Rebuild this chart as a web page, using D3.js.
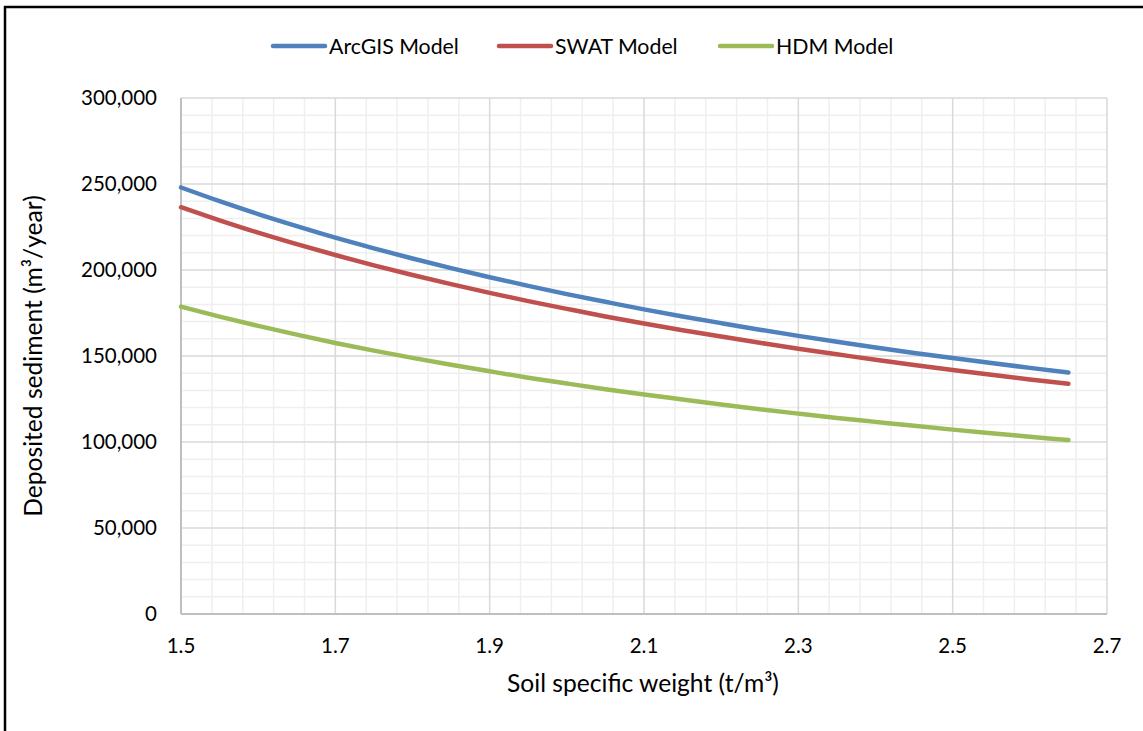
<!DOCTYPE html>
<html><head><meta charset="utf-8">
<script src="https://cdn.jsdelivr.net/npm/d3@7"></script>
<style>body{margin:0;background:#fff}svg text{font-family:Lato,"Open Sans",sans-serif;fill:#000}</style>
</head><body><svg id="c" width="1143" height="731"></svg>
<script>
const xValues = [1.5,1.55,1.6,1.65,1.7,1.75,1.8,1.85,1.9,1.95,2.0,2.05,2.1,2.15,2.2,2.25,2.3,2.35,2.4,2.45,2.5,2.55,2.6,2.65];
const arcgis = [248000,240000,232500,225500,218800,212600,206700,201100,195800,190800,186000,181500,177100,173000,169100,165300,161700,158300,155000,151800,148800,145900,143100,140400];
const swat = [236500,228900,221700,215000,208700,202700,197100,191800,186700,181900,177400,173000,168900,165000,161300,157700,154200,151000,147800,144800,141900,139100,136400,133900];
const hdm = [178700,172900,167500,162400,157600,153100,148900,144900,141100,137400,134000,130700,127600,124700,121800,119100,116500,114000,111700,109400,107200,105100,103100,101100];
const seriesNames = ["ArcGIS Model","SWAT Model","HDM Model"];
const seriesColors = ["#4f81bd","#c0504d","#9bbb59"];
const xTicks = [1.5,1.7,1.9,2.1,2.3,2.5,2.7];
const yTicks = [0,50000,100000,150000,200000,250000,300000];
const xTitle = "Soil specific weight (t/m³)";
const yTitle = "Deposited sediment (m³/year)";

const svg = d3.select("#c");
const L=181, R=1107, T=98, B=614;
const x = d3.scaleLinear().domain([1.5,2.7]).range([L,R]);
const y = d3.scaleLinear().domain([0,300000]).range([B,T]);

// size a text set so that a reference string reaches a target width
function fitSize(sample, target){
  const t = svg.append("text").attr("font-size",20).text(sample);
  const w = t.node().getComputedTextLength();
  t.remove();
  return 20*target/w;
}
const tickSize = fitSize("300,000", 76);
const legSize = fitSize("ArcGIS Model", 130);
const xTitleSize = fitSize(xTitle, 272);
const yTitleSize = fitSize(yTitle, 322);

// outer frame (top and left edges visible)
svg.append("line").attr("x1",4).attr("x2",1143).attr("y1",7).attr("y2",7).attr("stroke","#000").attr("stroke-width",2.5);
svg.append("line").attr("x1",5).attr("x2",5).attr("y1",6).attr("y2",731).attr("stroke","#000").attr("stroke-width",2.5);

// minor grid
const xMinor = d3.range(0,31).map(i=>1.5+i*0.04).filter((v,i)=>i%5!==0);
const yMinor = d3.range(0,31).map(i=>i*10000).filter((v,i)=>i%5!==0);
svg.append("g").selectAll("line").data(xMinor).join("line")
  .attr("x1",d=>x(d)).attr("x2",d=>x(d)).attr("y1",T).attr("y2",B).attr("stroke","#efefef").attr("stroke-width",1.5);
svg.append("g").selectAll("line").data(yMinor).join("line")
  .attr("x1",L).attr("x2",R).attr("y1",d=>y(d)).attr("y2",d=>y(d)).attr("stroke","#efefef").attr("stroke-width",1.5);
// major grid
svg.append("g").selectAll("line").data(xTicks).join("line")
  .attr("x1",d=>x(d)).attr("x2",d=>x(d)).attr("y1",T).attr("y2",B).attr("stroke","#d9d9d9").attr("stroke-width",1.5);
svg.append("g").selectAll("line").data(yTicks).join("line")
  .attr("x1",L).attr("x2",R).attr("y1",d=>y(d)).attr("y2",d=>y(d)).attr("stroke","#d9d9d9").attr("stroke-width",1.5);
// axes lines
svg.append("line").attr("x1",L).attr("x2",L).attr("y1",T).attr("y2",B).attr("stroke","#bfbfbf").attr("stroke-width",2);
svg.append("line").attr("x1",L).attr("x2",R).attr("y1",B).attr("y2",B).attr("stroke","#bfbfbf").attr("stroke-width",2);

// tick labels
const fmt = d3.format(",");
svg.append("g").selectAll("text").data(yTicks).join("text")
  .attr("x",157).attr("y",d=>y(d)).attr("dy","0.36em").attr("text-anchor","end")
  .attr("font-size",tickSize).text(d=>fmt(d));
svg.append("g").selectAll("text").data(xTicks).join("text")
  .attr("x",d=>x(d)).attr("y",653).attr("text-anchor","middle")
  .attr("font-size",tickSize).text(d=>d.toFixed(1));

// titles
svg.append("text").attr("x",643).attr("y",692).attr("text-anchor","middle").attr("font-size",xTitleSize).text(xTitle);
svg.append("text").attr("transform","translate(42,356) rotate(-90)").attr("text-anchor","middle").attr("font-size",yTitleSize).text(yTitle);

// lines
const allSeries = [arcgis,swat,hdm];
const line = d3.line().x((d,i)=>x(xValues[i])).y(d=>y(d)).curve(d3.curveMonotoneX);
allSeries.forEach((s,k)=>{
  svg.append("path").datum(s).attr("d",line).attr("fill","none")
    .attr("stroke",seriesColors[k]).attr("stroke-width",4.5).attr("stroke-linecap","round");
});

// legend
const legX = [273,499,720];
seriesNames.forEach((n,k)=>{
  svg.append("line").attr("x1",legX[k]).attr("x2",legX[k]+52).attr("y1",46).attr("y2",46)
    .attr("stroke",seriesColors[k]).attr("stroke-width",4.5).attr("stroke-linecap","round");
  svg.append("text").attr("x",legX[k]+56).attr("y",46).attr("dy","0.36em").attr("font-size",legSize).text(n);
});
</script></body></html>
